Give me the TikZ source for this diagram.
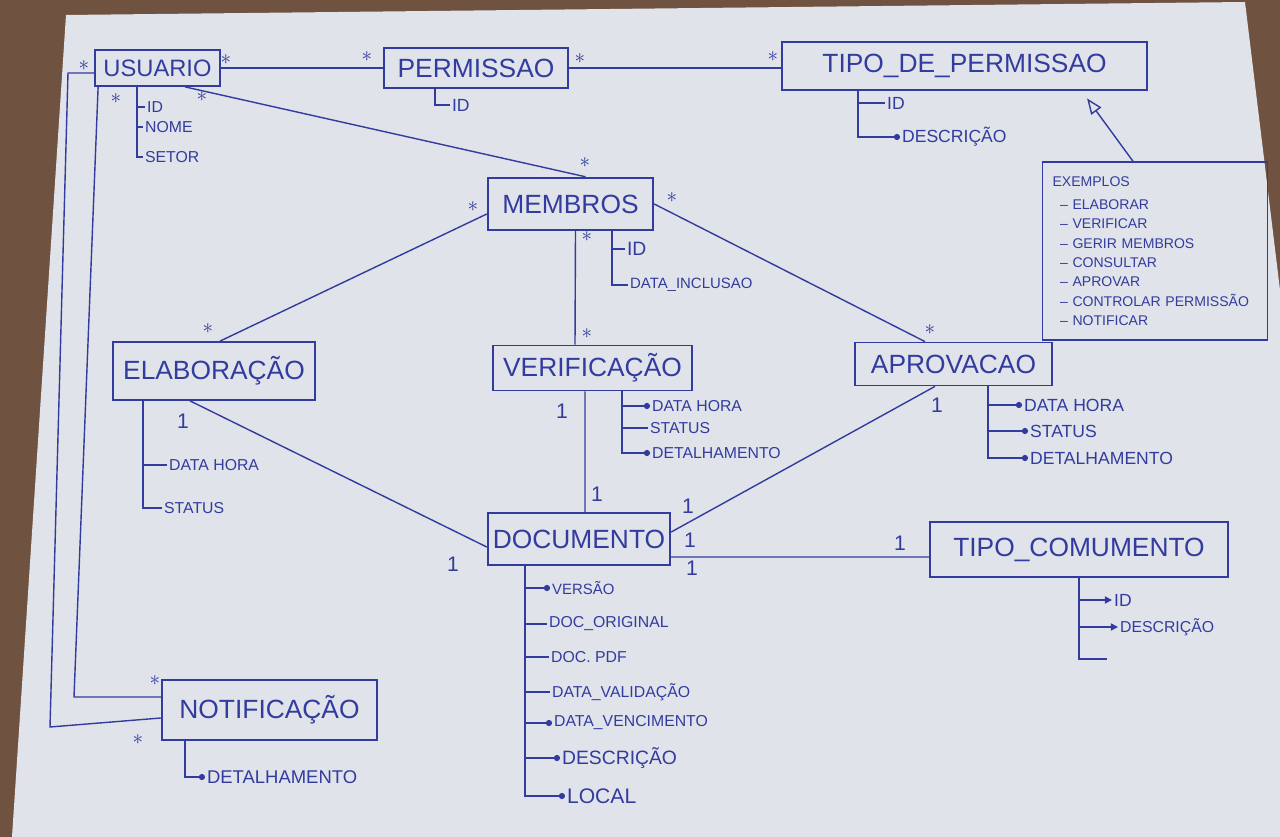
\documentclass[tikz,border=0pt]{standalone}
\usepackage{fontspec}
\setmainfont{Liberation Sans}
\usetikzlibrary{arrows.meta}
\definecolor{tinta}{RGB}{50, 60, 158}
\definecolor{papel}{RGB}{224, 227, 233}
\definecolor{madeira}{RGB}{112, 82, 64}

\begin{document}
\begin{tikzpicture}[
    x=0.2mm,
    y=-0.2mm,
    entidade/.style={
        draw=tinta,
        line width=1pt,
        text=tinta,
        inner sep=0pt,
        font=\fontsize{15}{17}\selectfont
    },
    atrib/.style={
        anchor=west,
        inner sep=1pt,
        text=tinta,
        font=\fontsize{9}{10}\selectfont
    },
    liga/.style={
        draw=tinta,
        line width=0.8pt
    },
    ponto/.style={
        liga,
        -{Circle[length=3.5pt]}
    },
    ponta/.style={
        liga,
        -{Triangle[length=4pt, width=4pt]}
    },
    mult/.style={
        text=tinta,
        inner sep=0pt,
        font=\fontsize{12}{12}\selectfont
    }
]

\useasboundingbox (0,0) rectangle (1280,837);
\fill[madeira] (0,0) rectangle (1280,837);
\fill[papel] (66,15) -- (1245,2) -- (1280,290) -- (1280,837) -- (12,837) -- cycle;

% entidades
\node[entidade, minimum width=25mm, minimum height=7.2mm, font=\fontsize{13.5}{15}\selectfont] (usuario) at (157.5,68)
{USUARIO};

\node[entidade, minimum width=36.8mm, minimum height=8mm] (permissao) at (476,68)
{PERMISSAO};

\node[entidade, minimum width=73mm, minimum height=9.6mm] (tipoperm) at (964.5,66)
{TIPO\_DE\_PERMISSAO};

\node[entidade, minimum width=33mm, minimum height=10.4mm, line width=1.4pt] (membros) at (570.5,204)
{MEMBROS};

\node[entidade, minimum width=40.4mm, minimum height=11.6mm] (elaboracao) at (214,371)
{ELABORAÇÃO};

\node[entidade, minimum width=39.8mm, minimum height=9mm] (verificacao) at (592.5,368)
{VERIFICAÇÃO};

\node[entidade, minimum width=39.4mm, minimum height=8.6mm] (aprovacao) at (953.5,364)
{APROVACAO};

\node[entidade, minimum width=36.4mm, minimum height=10.4mm, line width=1.4pt] (documento) at (579,539)
{DOCUMENTO};

\node[entidade, minimum width=59.6mm, minimum height=11mm] (tipodoc) at (1079,549.5)
{TIPO\_COMUMENTO};

\node[entidade, minimum width=43mm, minimum height=12mm, line width=1.4pt] (notificacao) at (269.5,710)
{NOTIFICAÇÃO};

% nota
\node[draw=tinta, line width=0.8pt, text=tinta, minimum width=45mm, minimum height=35.6mm,
    text width=41mm, align=left, inner xsep=2mm,
    font=\fontsize{8}{11}\selectfont] (exemplos) at (1155,251)
{EXEMPLOS\\[0.8mm]
\hspace{1.5mm}– ELABORAR\\
\hspace{1.5mm}– VERIFICAR\\
\hspace{1.5mm}– GERIR MEMBROS\\
\hspace{1.5mm}– CONSULTAR\\
\hspace{1.5mm}– APROVAR\\
\hspace{1.5mm}– CONTROLAR PERMISSÃO\\
\hspace{1.5mm}– NOTIFICAR};

\draw[liga, -{Triangle[open, length=9pt, width=7pt]}] ([xshift=-4.4mm]exemplos.north) -- ([xshift=24.5mm, yshift=-1.5mm]tipoperm.south);

% atributos
\node[atrib] (uid) at (145,107) {ID};
\node[atrib] (unome) at (143,127) {NOME};
\node[atrib] (usetor) at (143,157) {SETOR};
\draw[liga] ([xshift=-4.1mm]usuario.south) |- (uid.west);
\draw[liga] ([xshift=-4.1mm]usuario.south) |- (unome.west);
\draw[liga] ([xshift=-4.1mm]usuario.south) |- (usetor.west);

\node[atrib, font=\fontsize{10}{11}\selectfont] (pid) at (450,105) {ID};
\draw[liga] ([xshift=-8.2mm]permissao.south) |- (pid.west);

\node[atrib, font=\fontsize{10}{11}\selectfont] (tid) at (885,103) {ID};
\node[atrib, font=\fontsize{10}{11}\selectfont] (tdesc) at (900,137) {DESCRIÇÃO};
\draw[liga] ([xshift=-21.3mm]tipoperm.south) |- (tid.west);
\draw[ponto] ([xshift=-21.3mm]tipoperm.south) |- (tdesc.west);

\node[atrib, font=\fontsize{11}{12}\selectfont] (mid) at (625,249) {ID};
\node[atrib, font=\fontsize{8.5}{10}\selectfont] (mdata) at (628,285) {DATA\_INCLUSAO};
\draw[liga] ([xshift=8.3mm]membros.south) |- (mid.west);
\draw[liga] ([xshift=8.3mm]membros.south) |- (mdata.west);

\node[atrib] (edata) at (167,465) {DATA HORA};
\node[atrib] (estatus) at (162,508) {STATUS};
\draw[liga] ([xshift=-14.2mm]elaboracao.south) |- (edata.west);
\draw[liga] ([xshift=-14.2mm]elaboracao.south) |- (estatus.west);

\node[atrib] (vdata) at (650,406) {DATA HORA};
\node[atrib] (vstatus) at (648,428) {STATUS};
\node[atrib] (vdet) at (650,453) {DETALHAMENTO};
\draw[ponto] ([xshift=5.9mm]verificacao.south) |- (vdata.west);
\draw[liga] ([xshift=5.9mm]verificacao.south) |- (vstatus.west);
\draw[ponto] ([xshift=5.9mm]verificacao.south) |- (vdet.west);

\node[atrib, font=\fontsize{10}{11}\selectfont] (adata) at (1022,405) {DATA HORA};
\node[atrib, font=\fontsize{10}{11}\selectfont] (astatus) at (1028,431) {STATUS};
\node[atrib, font=\fontsize{10}{11}\selectfont] (adet) at (1028,458) {DETALHAMENTO};
\draw[ponto] ([xshift=6.9mm]aprovacao.south) |- (adata.west);
\draw[ponto] ([xshift=6.9mm]aprovacao.south) |- (astatus.west);
\draw[ponto] ([xshift=6.9mm]aprovacao.south) |- (adet.west);

\node[atrib, font=\fontsize{8.5}{10}\selectfont] (dvers) at (550,588) {VERSÃO};
\node[atrib] (dorig) at (547,624) {DOC\_ORIGINAL};
\node[atrib] (dpdf) at (549,657) {DOC. PDF};
\node[atrib] (dvalid) at (550,692) {DATA\_VALIDAÇÃO};
\node[atrib] (dvenc) at (552,723) {DATA\_VENCIMENTO};
\node[atrib, font=\fontsize{11}{12}\selectfont] (ddesc) at (560,758) {DESCRIÇÃO};
\node[atrib, font=\fontsize{12}{13}\selectfont] (dlocal) at (565,796) {LOCAL};
\draw[ponto] ([xshift=-10.8mm]documento.south) |- (dvers.west);
\draw[liga] ([xshift=-10.8mm]documento.south) |- (dorig.west);
\draw[liga] ([xshift=-10.8mm]documento.south) |- (dpdf.west);
\draw[liga] ([xshift=-10.8mm]documento.south) |- (dvalid.west);
\draw[ponto] ([xshift=-10.8mm]documento.south) |- (dvenc.west);
\draw[ponto] ([xshift=-10.8mm]documento.south) |- (ddesc.west);
\draw[ponto] ([xshift=-10.8mm]documento.south) |- (dlocal.west);

\node[atrib, font=\fontsize{10}{11}\selectfont] (tdid) at (1112,600) {ID};
\node[atrib] (tddesc) at (1118,627) {DESCRIÇÃO};
\coordinate (tdfim) at (1107,659);
\draw[ponta] (tipodoc.south) |- (tdid.west);
\draw[ponta] (tipodoc.south) |- (tddesc.west);
\draw[liga] (tipodoc.south) |- (tdfim);

\node[atrib, font=\fontsize{10.5}{12}\selectfont] (ndet) at (205,777) {DETALHAMENTO};
\draw[ponto] ([xshift=-16.9mm]notificacao.south) |- (ndet.west);

% relacionamentos
\coordinate (dobraA) at (74,697);
\coordinate (dobraB) at (68,73);
\coordinate (dobraC) at (50,727);

\draw[liga] (usuario) -- (permissao);
\draw[liga] (permissao.east) -- (permissao.east -| tipoperm.west);
\draw[liga] ([xshift=5.5mm]usuario.south) -- ([xshift=3mm]membros.north);
\draw[liga] ([xshift=0.8mm]usuario.south west) -- (dobraA) -- ([yshift=2.6mm]notificacao.west);
\draw[liga] ([yshift=-1mm]usuario.west) -- (dobraB) -- (dobraC) -- ([yshift=-1.6mm]notificacao.west);
\draw[liga] ([yshift=-2mm]membros.west) -- ([xshift=1.2mm]elaboracao.north);
\draw[liga] ([xshift=1mm]membros.south) -- ([xshift=-3.5mm]verificacao.north);
\draw[liga] (membros.east) -- ([xshift=-5.7mm]aprovacao.north);
\draw[liga] ([xshift=-4.8mm]elaboracao.south) -- ([yshift=-1.6mm]documento.west);
\draw[liga] ([xshift=-1.5mm]verificacao.south) -- ([xshift=1.2mm]documento.north);
\draw[liga] ([xshift=-3.7mm]aprovacao.south) -- ([yshift=1.4mm]documento.east);
\draw[liga] ([yshift=-3.6mm]documento.east) -- ([yshift=-1.5mm]tipodoc.west);

% cardinalidades
\node[mult] (m1) at (226,60) {$\ast$};
\node[mult] (m2) at (367,57) {$\ast$};
\node[mult] (m3) at (580,59) {$\ast$};
\node[mult] (m4) at (773,57) {$\ast$};
\node[mult] (m5) at (84,66) {$\ast$};
\node[mult] (m6) at (116,99) {$\ast$};
\node[mult] (m7) at (202,97) {$\ast$};
\node[mult] (m8) at (585,163) {$\ast$};
\node[mult] (m9) at (473,207) {$\ast$};
\node[mult] (m10) at (208,329) {$\ast$};
\node[mult] (m11) at (587,237) {$\ast$};
\node[mult] (m12) at (587,334) {$\ast$};
\node[mult] (m13) at (672,198) {$\ast$};
\node[mult] (m14) at (930,330) {$\ast$};
\node[mult] (m15) at (155,681) {$\ast$};
\node[mult] (m16) at (138,740) {$\ast$};

\node[mult] (m17) at (183,421) {1};
\node[mult] (m18) at (453,564) {1};
\node[mult] (m19) at (562,411) {1};
\node[mult] (m20) at (597,494) {1};
\node[mult] (m21) at (937,405) {1};
\node[mult] (m22) at (688,506) {1};
\node[mult] (m23) at (690,540) {1};
\node[mult] (m24) at (692,568) {1};
\node[mult] (m25) at (900,543) {1};

\end{tikzpicture}
\end{document}
